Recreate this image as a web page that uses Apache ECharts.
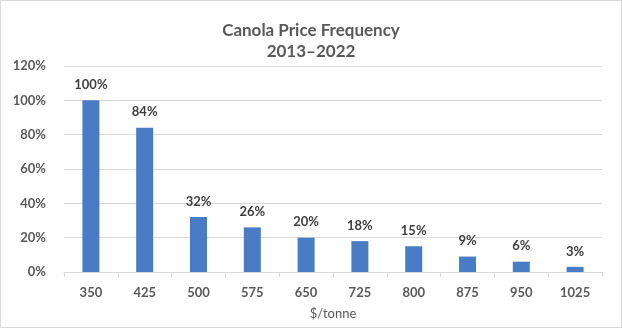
<!DOCTYPE html>
<html><head><meta charset="utf-8">
<script src="https://cdn.jsdelivr.net/npm/echarts@6/dist/echarts.min.js"></script>
<style>
html,body{margin:0;padding:0;background:#fff;}
#c{width:620px;height:326px;border:1px solid #d9d9d9;}
</style></head>
<body><div id="c"></div>
<script>
const categories = ['350','425','500','575','650','725','800','875','950','1025'];
const values = [100,84,32,26,20,18,15,9,6,3];
const yTicks = [0,20,40,60,80,100,120];

const chart = echarts.init(document.getElementById('c'));
chart.setOption({
  animation:false,
  title:{
    text:'Canola Price Frequency\n2013–2022',
    left:'center', top:14,
    textStyle:{fontFamily:'Lato',fontSize:17,fontWeight:'bold',color:'#595959',lineHeight:21}
  },
  grid:{left:63,right:19,top:65,bottom:55},
  xAxis:{
    type:'category', data:categories,
    name:'$/tonne', nameLocation:'middle', nameGap:35,
    nameTextStyle:{fontFamily:'Lato',fontSize:13,color:'#595959'},
    axisLine:{lineStyle:{color:'#d9d9d9'}},
    axisTick:{show:true,length:5,lineStyle:{color:'#d9d9d9'}},
    axisLabel:{fontFamily:'Lato',fontSize:13,fontWeight:'bold',color:'#595959',margin:14}
  },
  yAxis:{
    type:'value', min:yTicks[0], max:yTicks[yTicks.length-1], interval:20,
    axisLine:{show:false}, axisTick:{show:false},
    splitLine:{lineStyle:{color:'#d9d9d9'}},
    axisLabel:{fontFamily:'Lato',fontSize:13,fontWeight:'bold',color:'#595959',margin:18,formatter:'{value}%'}
  },
  series:[{
    type:'bar', data:values, barWidth:17,
    itemStyle:{color:'#4a7cc6'},
    label:{show:true,position:'top',distance:9,formatter:'{c}%',
      fontFamily:'Lato',fontSize:13,fontWeight:'bold',color:'#404040'}
  }]
});
</script></body></html>
